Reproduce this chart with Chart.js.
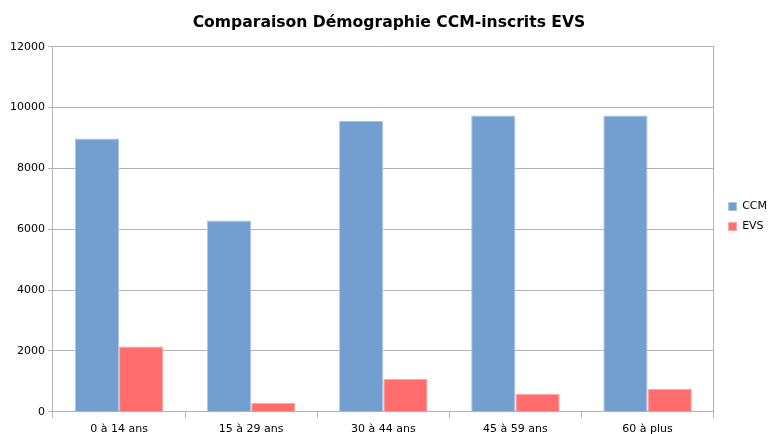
<!DOCTYPE html>
<html><head><meta charset="utf-8">
<script src="https://cdn.jsdelivr.net/npm/chart.js@4/dist/chart.umd.min.js"></script>
<style>html,body{margin:0;padding:0;background:#fff;overflow:hidden}#w{width:771px;height:441px}</style>
</head><body><div id="w"><canvas id="c"></canvas></div>
<script>
const categories = ["0 à 14 ans", "15 à 29 ans", "30 à 44 ans", "45 à 59 ans", "60 à plus"];
const ccm = [8980, 6290, 9560, 9740, 9740];
const evs = [2150, 300, 1080, 590, 760];
const yTicks = [0, 2000, 4000, 6000, 8000, 10000, 12000];

const shiftLegend = {
  id: 'shiftLegend',
  afterLayout(chart) {
    const lg = chart.legend;
    if (lg) { const dx = 6, dy = -6; lg.left += dx; lg.right += dx; lg.top += dy; lg.bottom += dy; }
  }
};

new Chart(document.getElementById('c'), {
  type: 'bar',
  data: {
    labels: categories,
    datasets: [
      {label: 'CCM', data: ccm, backgroundColor: '#729fcf', borderColor: '#a9c5e6', borderWidth: 1},
      {label: 'EVS', data: evs, backgroundColor: '#ff6d6d', borderColor: '#ffa5a5', borderWidth: 1}
    ]
  },
  plugins: [shiftLegend],
  options: {
    responsive: true, maintainAspectRatio: false, animation: false,
    layout: {padding: {left: 7, right: 0, top: 4, bottom: 0}},
    datasets: {bar: {categoryPercentage: 0.67, barPercentage: 1}},
    plugins: {
      title: {display: true, text: 'Comparaison Démographie CCM-inscrits EVS', color: '#000',
        font: {family: 'DejaVu Sans', size: 15.6, weight: 'bold'}, padding: {top: 10, bottom: 14}},
      legend: {position: 'right', labels: {boxWidth: 8, boxHeight: 8, color: '#000', padding: 9,
        font: {family: 'DejaVu Sans', size: 11}}},
      tooltip: {enabled: false}
    },
    scales: {
      x: {
        grid: {display: true, drawOnChartArea: false, offset: true, color: '#b3b3b3', tickLength: 6},
        border: {color: '#b3b3b3'},
        ticks: {color: '#000', font: {family: 'DejaVu Sans', size: 11}, padding: 5}
      },
      y: {
        min: 0, max: 12000,
        afterBuildTicks: (s) => { s.ticks = yTicks.map(v => ({value: v})); },
        grid: {color: '#b3b3b3', tickLength: 5},
        border: {color: '#b3b3b3'},
        ticks: {color: '#000', font: {family: 'DejaVu Sans', size: 11}, padding: 3,
          callback: (v) => String(v)}
      },
      y2: {
        position: 'right', min: 0, max: 12000,
        grid: {drawOnChartArea: false, drawTicks: false},
        border: {color: '#b3b3b3'},
        ticks: {display: false}
      }
    }
  }
});
</script></body></html>
